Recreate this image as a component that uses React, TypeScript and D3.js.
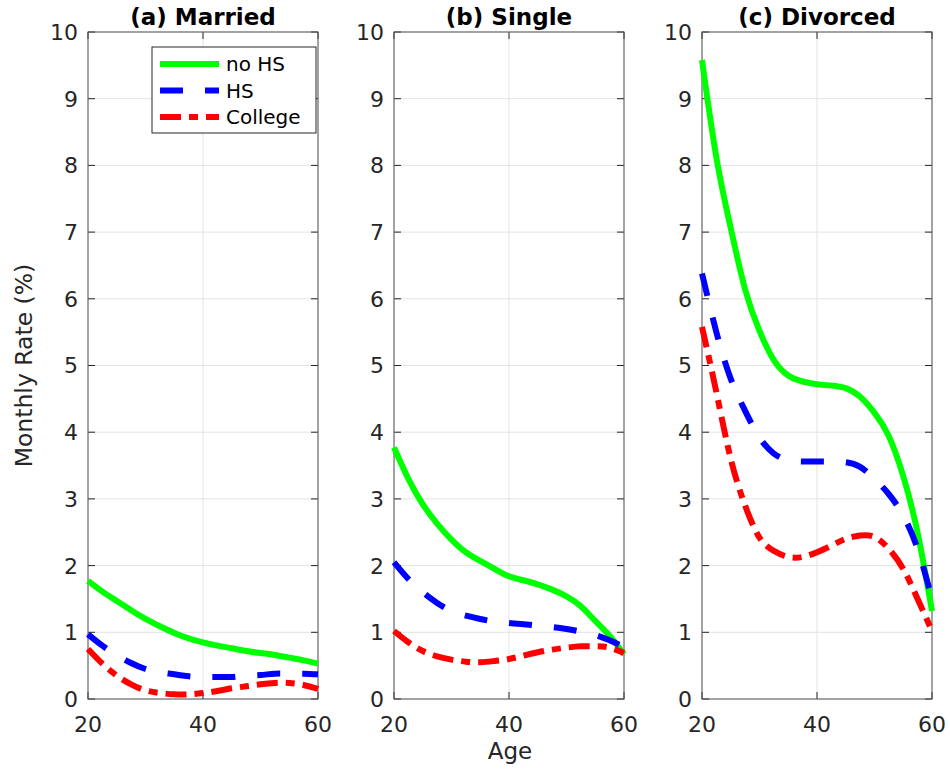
import React from 'react';
import * as d3 from 'd3';

const ages = [20, 22.5, 25, 27.5, 30, 32.5, 35, 37.5, 40, 42.5, 45, 47.5, 50, 52.5, 55, 57.5, 60];

const marriedNoHS = [1.77, 1.61, 1.47, 1.33, 1.2, 1.09, 0.99, 0.91, 0.85, 0.8, 0.76, 0.72, 0.69, 0.66, 0.62, 0.58, 0.53];
const marriedHS = [0.97, 0.8, 0.66, 0.54, 0.45, 0.4, 0.37, 0.34, 0.33, 0.33, 0.33, 0.35, 0.36, 0.38, 0.38, 0.38, 0.37];
const marriedCollege = [0.75, 0.53, 0.35, 0.22, 0.13, 0.09, 0.07, 0.07, 0.09, 0.12, 0.16, 0.19, 0.22, 0.24, 0.24, 0.21, 0.15];

const singleNoHS = [3.77, 3.3, 2.92, 2.63, 2.39, 2.2, 2.07, 1.95, 1.84, 1.78, 1.72, 1.64, 1.54, 1.39, 1.17, 0.95, 0.67];
const singleHS = [2.05, 1.8, 1.6, 1.44, 1.32, 1.25, 1.2, 1.16, 1.14, 1.12, 1.1, 1.08, 1.05, 1.01, 0.96, 0.88, 0.78];
const singleCollege = [1.02, 0.85, 0.72, 0.64, 0.59, 0.56, 0.55, 0.57, 0.6, 0.65, 0.7, 0.74, 0.77, 0.79, 0.79, 0.77, 0.69];

const divorcedNoHS = [9.58, 8.12, 7.06, 6.14, 5.52, 5.08, 4.85, 4.76, 4.72, 4.7, 4.66, 4.53, 4.29, 3.94, 3.34, 2.49, 1.32];
const divorcedHS = [6.38, 5.5, 4.8, 4.32, 3.92, 3.68, 3.58, 3.56, 3.56, 3.56, 3.55, 3.48, 3.3, 3.07, 2.75, 2.25, 1.5];
const divorcedCollege = [5.58, 4.6, 3.6, 2.9, 2.42, 2.22, 2.13, 2.13, 2.2, 2.3, 2.4, 2.45, 2.43, 2.25, 1.95, 1.5, 1.02];

const panelTitles = ['(a) Married', '(b) Single', '(c) Divorced'];
const seriesNames = ['no HS', 'HS', 'College'];
const xTicks = [20, 40, 60];
const yTicks = [0, 1, 2, 3, 4, 5, 6, 7, 8, 9, 10];

const panels = [
  [marriedNoHS, marriedHS, marriedCollege],
  [singleNoHS, singleHS, singleCollege],
  [divorcedNoHS, divorcedHS, divorcedCollege],
];

const styles = [
  { color: '#00ff00', dash: null as string | null },
  { color: '#0000ff', dash: '23,22' },
  { color: '#ff0000', dash: '21,8,9,8' },
];

const W = 950, H = 773;
const panelLefts = [88, 394, 702];
const PW = 230;
const TOP = 32, BOTTOM = 699;
const FONT = '"DejaVu Sans", sans-serif';
const AX = '#262626';

export default function App() {
  const y = d3.scaleLinear().domain([0, 10]).range([BOTTOM, TOP]);
  return (
    <svg width={W} height={H} style={{ position: 'absolute', left: 0, top: 0, background: '#fff' }} fontFamily={FONT}>
      {panels.map((series, pi) => {
        const L = panelLefts[pi];
        const x = d3.scaleLinear().domain([20, 60]).range([L, L + PW]);
        const line = d3.line<number>()
          .x((_, i) => x(ages[i]))
          .y((v) => y(v))
          .curve(d3.curveNatural);
        return (
          <g key={pi}>
            {yTicks.map((t) => (
              <line key={'gy' + t} x1={L} x2={L + PW} y1={y(t)} y2={y(t)} stroke="#e3e3e3" strokeWidth={1} />
            ))}
            {xTicks.map((t) => (
              <line key={'gx' + t} x1={x(t)} x2={x(t)} y1={TOP} y2={BOTTOM} stroke="#e3e3e3" strokeWidth={1} />
            ))}
            {yTicks.map((t) => (
              <g key={'ty' + t}>
                <line x1={L} x2={L + 7} y1={y(t)} y2={y(t)} stroke={AX} strokeWidth={1} />
                <line x1={L + PW - 7} x2={L + PW} y1={y(t)} y2={y(t)} stroke={AX} strokeWidth={1} />
                <text x={L - 10} y={y(t)} dy="0.36em" textAnchor="end" fontSize={22} fill={AX}>{t}</text>
              </g>
            ))}
            {xTicks.map((t) => (
              <g key={'tx' + t}>
                <line x1={x(t)} x2={x(t)} y1={BOTTOM} y2={BOTTOM - 7} stroke={AX} strokeWidth={1} />
                <line x1={x(t)} x2={x(t)} y1={TOP} y2={TOP + 7} stroke={AX} strokeWidth={1} />
                <text x={x(t)} y={BOTTOM + 33} textAnchor="middle" fontSize={22} fill={AX}>{t}</text>
              </g>
            ))}
            <rect x={L} y={TOP} width={PW} height={BOTTOM - TOP} fill="none" stroke="#555" strokeWidth={1} />
            {series.map((vals, si) => (
              <path key={si} d={line(vals) || ''} fill="none" stroke={styles[si].color} strokeWidth={6}
                strokeDasharray={styles[si].dash || undefined} />
            ))}
            <text x={L + PW / 2} y={25} textAnchor="middle" fontSize={23} fontWeight="bold" fill="#000">{panelTitles[pi]}</text>
          </g>
        );
      })}
      <g>
        <rect x={152} y={47} width={164} height={86} fill="#fff" stroke={AX} strokeWidth={1} />
        {seriesNames.map((n, i) => {
          const ly = 64 + i * 26.5;
          return (
            <g key={n}>
              <line x1={160} x2={219} y1={ly} y2={ly} stroke={styles[i].color} strokeWidth={6}
                strokeDasharray={styles[i].dash || undefined} />
              <text x={226} y={ly} dy="0.36em" fontSize={20} fill="#000">{n}</text>
            </g>
          );
        })}
      </g>
      <text x={510} y={759} textAnchor="middle" fontSize={23} fill={AX}>Age</text>
      <text transform={`translate(32, ${(TOP + BOTTOM) / 2}) rotate(-90)`} textAnchor="middle" fontSize={23.5} fill={AX}>Monthly Rate (%)</text>
    </svg>
  );
}
